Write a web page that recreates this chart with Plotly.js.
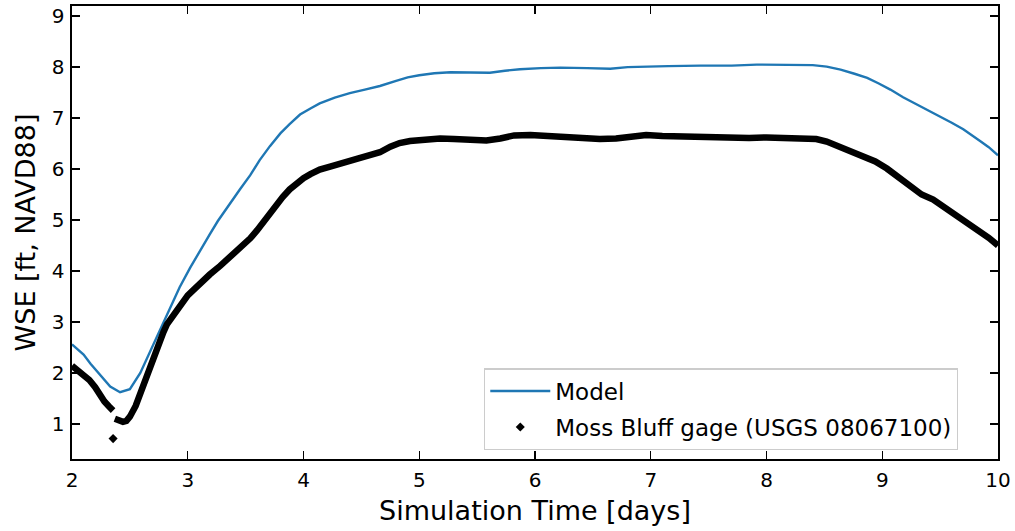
<!DOCTYPE html>
<html>
<head>
<meta charset="utf-8">
<script src="https://cdn.plot.ly/plotly-3.0.1.min.js"></script>
<style>html,body{margin:0;padding:0;background:#fff;}#chart{width:1015px;height:531px;}</style>
</head>
<body>
<div id="chart"></div>
<script>
// Model (blue line)
const modelT = [2.00,2.10,2.16,2.24,2.33,2.415,2.50,2.59,2.68,2.76,2.85,2.93,3.02,3.11,3.19,3.26,3.35,3.45,3.54,3.62,3.71,3.80,3.88,3.97,4.06,4.14,4.27,4.40,4.53,4.66,4.80,4.90,5.00,5.13,5.27,5.44,5.61,5.74,5.87,6.05,6.22,6.45,6.65,6.80,6.91,7.15,7.43,7.70,7.915,8.15,8.40,8.52,8.64,8.76,8.87,8.97,9.07,9.18,9.30,9.40,9.50,9.60,9.70,9.78,9.845,9.92,10.00];
const modelV = [2.56,2.36,2.18,1.96,1.73,1.62,1.68,2.00,2.45,2.85,3.28,3.68,4.06,4.42,4.72,4.98,5.28,5.60,5.88,6.17,6.45,6.70,6.88,7.07,7.19,7.29,7.40,7.49,7.56,7.63,7.73,7.80,7.84,7.88,7.90,7.90,7.89,7.93,7.96,7.98,7.99,7.98,7.97,8.00,8.01,8.02,8.03,8.03,8.05,8.04,8.04,8.01,7.95,7.87,7.79,7.68,7.56,7.41,7.27,7.16,7.04,6.91,6.78,6.66,6.55,6.43,6.27];

// Moss Bluff gage observations (null = data gap)
const obsT = [2.00,2.05,2.10,2.15,2.20,2.24,2.28,2.32,2.355,2.36,2.37,2.40,2.44,2.47,2.50,2.55,2.59,2.63,2.67,2.72,2.76,2.79,2.82,2.85,2.90,2.96,3.00,3.05,3.11,3.19,3.28,3.35,3.45,3.54,3.60,3.65,3.71,3.76,3.82,3.88,3.94,4.00,4.06,4.14,4.23,4.32,4.40,4.49,4.58,4.66,4.75,4.83,4.92,5.00,5.18,5.30,5.45,5.58,5.70,5.82,5.96,6.10,6.22,6.40,6.56,6.70,6.85,6.96,7.10,7.25,7.43,7.55,7.68,7.85,8.00,8.15,8.30,8.43,8.52,8.60,8.70,8.84,8.94,9.04,9.14,9.24,9.34,9.44,9.54,9.64,9.74,9.845,9.92,10.00];
const obsV = [2.14,2.05,1.97,1.86,1.72,1.56,1.44,1.34,1.26,null,1.10,1.07,1.04,1.06,1.14,1.35,1.60,1.88,2.13,2.42,2.65,2.80,2.95,3.05,3.24,3.42,3.52,3.63,3.77,3.93,4.10,4.24,4.44,4.64,4.80,4.95,5.13,5.30,5.45,5.60,5.72,5.82,5.90,5.99,6.05,6.12,6.18,6.22,6.28,6.33,6.44,6.51,6.55,6.57,6.60,6.59,6.58,6.56,6.60,6.66,6.67,6.65,6.64,6.63,6.59,6.60,6.65,6.67,6.65,6.64,6.63,6.61,6.59,6.61,6.62,6.61,6.60,6.59,6.54,6.47,6.39,6.27,6.15,6.01,5.83,5.64,5.50,5.40,5.25,5.07,4.92,4.77,4.65,4.50];
// Isolated low reading
const outlierT = [2.355];
const outlierV = [0.71];

const xTicks = [2,3,4,5,6,7,8,9,10];
const yTicks = [1,2,3,4,5,6,7,8,9];

const traces = [
  {x: modelT, y: modelV, mode: 'lines', name: 'Model', legendgroup: 'a',
   line: {color: '#1f77b4', width: 2.4}},
  {x: obsT, y: obsV, mode: 'lines', showlegend: false, connectgaps: false, legendgroup: 'b',
   line: {color: '#000000', width: 6.5}, hoverinfo: 'skip'},
  {x: outlierT, y: outlierV, mode: 'markers', legendgroup: 'b',
   name: 'Moss Bluff gage (USGS 08067100)',
   marker: {color: '#000000', symbol: 'diamond', size: 7}}
];

const axisCommon = {
  showgrid: false, zeroline: false, showline: true, mirror: 'allticks',
  linecolor: '#000', linewidth: 1.6, ticks: 'inside', ticklen: 8, tickwidth: 1.4,
  tickcolor: '#000', tickfont: {family: 'DejaVu Sans', size: 20, color: '#000'}
};

const layout = {
  width: 1015, height: 531,
  margin: {l: 72, r: 17, t: 6, b: 72},
  paper_bgcolor: '#fff', plot_bgcolor: '#fff',
  font: {family: 'DejaVu Sans', color: '#000'},
  xaxis: Object.assign({}, axisCommon, {
    range: [2, 10], tickvals: xTicks, ticktext: xTicks.map(String), ticklabelstandoff: 2,
    title: {text: 'Simulation Time [days]', font: {family: 'DejaVu Sans', size: 27, color: '#000'}, standoff: 10}
  }),
  yaxis: Object.assign({}, axisCommon, {
    range: [0.31, 9.2], tickvals: yTicks, ticktext: yTicks.map(String), ticklabelstandoff: 2,
    title: {text: 'WSE [ft, NAVD88]', font: {family: 'DejaVu Sans', size: 27, color: '#000'}, standoff: 8}
  }),
  legend: {
    x: 0.445, y: 0.2, xanchor: 'left', yanchor: 'top',
    bgcolor: 'rgba(255,255,255,0.85)', bordercolor: '#cccccc', borderwidth: 1.2,
    font: {family: 'DejaVu Sans', size: 23, color: '#000'},
    itemwidth: 60, tracegroupgap: 3
  },
  showlegend: true
};

Plotly.newPlot('chart', traces, layout, {displayModeBar: false, staticPlot: true});
</script>
</body>
</html>
